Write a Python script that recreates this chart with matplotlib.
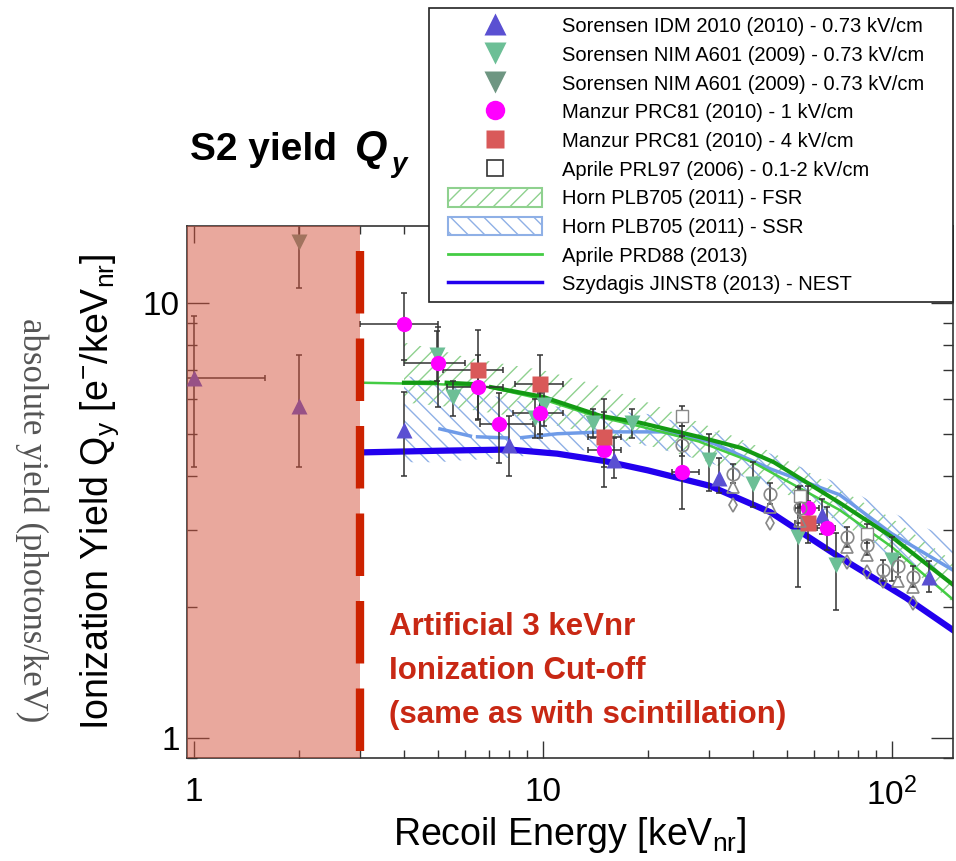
import numpy as np
import matplotlib.pyplot as plt
from matplotlib.lines import Line2D
from matplotlib.patches import Patch
from matplotlib.legend_handler import HandlerLine2D, HandlerPatch
from matplotlib.ticker import FixedLocator, FixedFormatter, LogLocator, NullFormatter

plt.rcParams['font.family'] = ['Liberation Sans', 'DejaVu Sans']
plt.rcParams['hatch.linewidth'] = 1.0

nan = np.nan

# --- measurements: recoil energy [keVnr], yield [e-/keVnr], error bounds ---
idm_x = [1.0, 2.0, 4.0, 8.0, 16.0, 32.0, 63.0, 128.0]
idm_y = [6.7, 5.8, 5.1, 4.7, 4.35, 3.95, 3.25, 2.35]
idm_ylo = [4.2, 4.2, 4.0, 4.0, 3.95, 3.65, 2.95, 2.17]
idm_yhi = [9.3, 7.6, 6.25, 5.5, 4.9, 4.4, 3.55, 2.55]

nim_x = [4.97, 5.53, 9.5, 10.07, 13.9, 18.0, 29.9, 40.0, 53.8, 69.5, 100.0]
nim_y = [7.6, 6.08, 5.44, 5.83, 5.3, 5.3, 4.36, 3.84, 2.9, 2.5, 2.57]
nim_ylo = [6.6, 5.5, 4.9, 5.2, 4.9, 4.9, 3.7, 3.4, 2.22, 1.97, 2.3]
nim_yhi = [8.6, 6.6, 6.0, 6.4, 5.7, 5.7, 5.0, 4.3, 3.78, 2.96, 2.9]

nim2_x = [2.0]
nim2_y = [13.8]
nim2_ylo = [10.8]
nim2_yhi = [20.0]

m1_x = [4.0, 5.0, 6.5, 7.5, 9.8, 15.0, 25.0, 57.5, 65.1]
m1_y = [8.95, 7.28, 6.41, 5.27, 5.59, 4.6, 4.09, 3.38, 3.04]
m1_xlo = [3.0, 4.0, 5.3, 6.6, 8.2, 13.5, 23.4, 53.0, 61.0]
m1_xhi = [5.0, 6.0, 7.7, 9.4, 11.4, 16.8, 28.0, 62.0, 69.0]
m1_ylo = [7.4, 5.77, 5.4, 4.29, 4.9, 3.78, 3.36, 3.0, 2.7]
m1_yhi = [10.5, 8.8, 7.6, 6.2, 6.2, 6.0, 5.2, 3.8, 3.4]

m4_x = [6.5, 9.8, 15.0, 57.5]
m4_y = [7.0, 6.51, 4.92, 3.12]
m4_xlo = [5.17, 8.3, 13.5, 53.0]
m4_xhi = [7.7, 11.4, 16.8, 62.0]
m4_ylo = [5.38, 5.0, 4.2, 2.8]
m4_yhi = [8.67, 7.6, 5.6, 3.5]

a06_x = [25.0, 54.5, 84.8]
a06_y = [5.5, 3.6, 2.95]
a06_ylo = [5.2, 3.4, 2.8]
a06_yhi = [5.8, 3.8, 3.1]

a06c_x = [25.0, 35.0, 44.7, 54.5, 74.3, 84.8, 94.2, 104.0, 115.0]
a06c_y = [4.71, 4.05, 3.64, 3.38, 2.9, 2.78, 2.43, 2.48, 2.35]
a06c_ylo = [4.45, 3.85, 3.45, 3.2, 2.75, 2.64, 2.3, 2.35, 2.22]
a06c_yhi = [4.95, 4.25, 3.85, 3.56, 3.05, 2.92, 2.56, 2.61, 2.48]
a06t_x = [35.0, 44.7, 54.5, 74.3, 84.8, 104.0, 115.0]
a06t_y = [3.77, 3.4, 3.15, 2.75, 2.63, 2.3, 2.22]
a06d_x = [35.0, 44.7, 74.3, 84.8, 94.2, 115.0]
a06d_y = [3.43, 3.12, 2.54, 2.41, 2.3, 2.04]

# --- model curves and bands ---
fsr_x = [4, 5, 6, 8, 10, 14, 20, 30, 45, 70, 100, 150]
fsr_lo = [5.9, 5.8, 5.7, 5.5, 5.3, 5.0, 4.7, 4.3, 3.8, 3.15, 2.65, 2.05]
fsr_hi = [8.1, 7.8, 7.5, 7.2, 7.0, 6.5, 5.9, 5.2, 4.55, 3.75, 3.2, 2.55]
fsr_line_x = [4.0, 4.97, nan, 5.3, 6.4, nan, 7.1, 10, 14.6, 19, 28, 37, 46, 71, 100, 150]
fsr_line_y = [6.55, 6.55, nan, 6.55, 6.5, nan, 6.4, 6.08, 5.5, 5.3, 4.92, 4.64, 4.3, 3.47, 2.9, 2.25]

ssr_x = [4, 5, 6, 8, 10, 14, 20, 30, 45, 70, 100, 150]
ssr_lo = [4.3, 4.3, 4.35, 4.4, 4.5, 4.6, 4.7, 4.3, 3.75, 3.1, 2.6, 2.3]
ssr_hi = [6.8, 6.6, 6.3, 6.0, 5.8, 5.7, 5.55, 5.1, 4.5, 3.85, 3.3, 2.85]
ssr_line_x = [5.07, 6.2, nan, 6.5, 7.9, nan, 8.7, 11, 15, 22, 30, 45, 71, 100, 150]
ssr_line_y = [5.13, 4.94, nan, 4.92, 4.89, nan, 4.9, 5.0, 5.05, 5.05, 4.8, 4.15, 3.62, 2.95, 2.43]

aprile13_x = [3, 5, 7, 10, 14, 19, 28, 40, 71, 100, 150]
aprile13_y = [6.55, 6.5, 6.4, 6.0, 5.5, 5.2, 4.8, 4.3, 3.34, 2.75, 2.08]

nest_x = [3, 5, 8, 11, 15, 20, 30, 45, 70, 110, 150]
nest_y = [4.53, 4.57, 4.6, 4.5, 4.33, 4.12, 3.8, 3.3, 2.62, 2.1, 1.77]

labels = ['Sorensen IDM 2010 (2010) - 0.73 kV/cm',
          'Sorensen NIM A601 (2009) - 0.73 kV/cm',
          'Sorensen NIM A601 (2009) - 0.73 kV/cm',
          'Manzur PRC81 (2010) - 1 kV/cm',
          'Manzur PRC81 (2010) - 4 kV/cm',
          'Aprile PRL97 (2006) - 0.1-2 kV/cm',
          'Horn PLB705 (2011) - FSR',
          'Horn PLB705 (2011) - SSR',
          'Aprile PRD88 (2013)',
          'Szydagis JINST8 (2013) - NEST']

c_idm = '#5a50d2'
c_nim = '#6cbf96'
c_nim2 = '#6e9682'
c_m1 = '#ff00ff'
c_m4 = '#d95959'
c_gray = '#888888'
c_fsr = '#139a13'
c_fsr_band = '#8fd18f'
c_ssr = '#6f9be8'
c_ssr_band = '#8fb0e6'
c_aprile = '#44cc44'
c_nest = '#2200ee'
c_red = '#cc2200'

fig = plt.figure(figsize=(9.56, 8.61), dpi=100)
ax = fig.add_axes([0.1953, 0.1196, 0.8016, 0.6179])
ax.set_xscale('log')
ax.set_yscale('log')
ax.set_xlim(0.953, 150)
ax.set_ylim(0.9, 15)

# bands
ax.fill_between(fsr_x, fsr_lo, fsr_hi, facecolor='none', edgecolor=c_fsr_band,
                hatch='//', linewidth=0, zorder=1)
ax.fill_between(ssr_x, ssr_lo, ssr_hi, facecolor='none', edgecolor=c_ssr_band,
                hatch='\\\\', linewidth=0, zorder=1)

# curves
ax.plot(ssr_line_x, ssr_line_y, color=c_ssr, lw=2.5, zorder=2)
ax.plot(aprile13_x, aprile13_y, color=c_aprile, lw=1.8, zorder=2)
ax.plot(fsr_line_x, fsr_line_y, color=c_fsr, lw=3, zorder=2)
ax.plot(nest_x, nest_y, color=c_nest, lw=4.5, zorder=2)


def points(x, y, ylo, yhi, xlo=None, xhi=None, **kw):
    x = np.array(x)
    y = np.array(y)
    yerr = [y - np.array(ylo), np.array(yhi) - y]
    xerr = None
    if xlo is not None:
        xerr = [x - np.array(xlo), np.array(xhi) - x]
    ax.errorbar(x, y, xerr=xerr, yerr=yerr, fmt='none', ecolor='#333333',
                elinewidth=1.1, capsize=2, capthick=1.1, zorder=3)
    ax.plot(x, y, ls='none', zorder=4, **kw)


points(idm_x, idm_y, idm_ylo, idm_yhi, xlo=[0.6] + idm_x[1:], xhi=[1.6] + idm_x[1:],
       marker='^', ms=11, color=c_idm, mec='none')
points(nim_x, nim_y, nim_ylo, nim_yhi, marker='v', ms=11, color=c_nim, mec='none')
points(nim2_x, nim2_y, nim2_ylo, nim2_yhi, marker='v', ms=11, color=c_nim2, mec='none')
points(m1_x, m1_y, m1_ylo, m1_yhi, xlo=m1_xlo, xhi=m1_xhi,
       marker='o', ms=11, color=c_m1, mec='none')
points(m4_x, m4_y, m4_ylo, m4_yhi, xlo=m4_xlo, xhi=m4_xhi,
       marker='s', ms=11, color=c_m4, mec='none')
points(a06_x, a06_y, a06_ylo, a06_yhi, marker='s', ms=9, mfc='white', mec=c_gray)
points(a06c_x, a06c_y, a06c_ylo, a06c_yhi, marker='o', ms=9, mfc='none', mec=c_gray, mew=1.2)
ax.plot(a06t_x, a06t_y, ls='none', marker='^', ms=9, mfc='none', mec=c_gray, mew=1.2, zorder=4)
ax.plot(a06d_x, a06d_y, ls='none', marker='d', ms=7, mfc='none', mec=c_gray, mew=1.2, zorder=4)

# excluded region below 3 keVnr
ax.axvspan(0.953, 3.0, color='#d4523c', alpha=0.5, lw=0, zorder=8)
ax.plot([3, 3], [15, 0.9], color=c_red, lw=6, ls=(7.5, (7.5, 3.0)), zorder=9)

# axes styling
for s in ax.spines.values():
    s.set_color('#333333')
    s.set_linewidth(1.2)
ax.xaxis.set_major_locator(FixedLocator([1, 10, 100]))
ax.xaxis.set_major_formatter(FixedFormatter(['1', '10', r'$\mathregular{10^{2}}$']))
ax.xaxis.set_minor_locator(LogLocator(base=10, subs=np.arange(2, 10)))
ax.xaxis.set_minor_formatter(NullFormatter())
ax.yaxis.set_major_locator(FixedLocator([1, 10]))
ax.yaxis.set_major_formatter(FixedFormatter(['1', '10']))
ax.yaxis.set_minor_locator(LogLocator(base=10, subs=np.arange(2, 10)))
ax.yaxis.set_minor_formatter(NullFormatter())
ax.tick_params(which='both', direction='in', top=True, right=True, color='#333333', width=1.0,
               labelsize=24)
ax.tick_params(axis='x', which='major', length=12, pad=14)
ax.tick_params(axis='x', which='minor', length=6)
ax.tick_params(axis='y', which='major', length=16, pad=5)
ax.tick_params(axis='y', which='minor', length=7)

ax.set_xlabel(r'Recoil Energy [keV$_{\mathregular{nr}}$]', fontsize=27, labelpad=2)
ax.set_ylabel(r'Ionization Yield Q$_{\mathregular{y}}$ [e$^{\mathregular{-}}$/keV$_{\mathregular{nr}}$]',
              fontsize=27, labelpad=16)

fig.text(32 / 956, 1 - 520 / 861, 'absolute yield (photons/keV)', rotation=270,
         family='Liberation Serif', fontsize=25, color='#555555', ha='center', va='center')

# headline
fig.text(190 / 956, 1 - 160 / 861, 'S2 yield', weight='bold', fontsize=28,
         ha='left', va='baseline')
fig.text(355 / 956, 1 - 160 / 861, 'Q', weight='bold', style='italic', fontsize=30,
         ha='left', va='baseline')
fig.text(391 / 956, 1 - 172 / 861, 'y', weight='bold', style='italic', fontsize=20,
         ha='left', va='baseline')

for i, line in enumerate(['Artificial 3 keVnr', 'Ionization Cut-off',
                          '(same as with scintillation)']):
    fig.text(389 / 956, 1 - (635 + 44 * i) / 861, line, color='#c82814', weight='bold',
             fontsize=22.5, ha='left', va='baseline')

handles = [
    Line2D([], [], ls='none', marker='^', ms=16, color=c_idm, mec='none'),
    Line2D([], [], ls='none', marker='v', ms=16, color=c_nim, mec='none'),
    Line2D([], [], ls='none', marker='v', ms=16, color=c_nim2, mec='none'),
    Line2D([], [], ls='none', marker='o', ms=14, color=c_m1, mec='none'),
    Line2D([], [], ls='none', marker='s', ms=13, color=c_m4, mec='none'),
    Line2D([], [], ls='none', marker='s', ms=11, mfc='white', mec='#333333', mew=1.2),
    Patch(facecolor='white', edgecolor=c_fsr_band, hatch='//', lw=1.5),
    Patch(facecolor='white', edgecolor=c_ssr_band, hatch='\\\\', lw=1.5),
    Line2D([], [], color=c_aprile, lw=2),
    Line2D([], [], color=c_nest, lw=2.5),
]
hmap = {Line2D: HandlerLine2D(xpad=0.55), Patch: HandlerPatch(xpad=0.55)}
leg = fig.legend(handles, labels, loc='upper left', handler_map=hmap,
                 bbox_to_anchor=(429 / 956, 1 - 300 / 861, 524 / 956, 292 / 861), mode='expand',
                 fontsize=14.5, frameon=True, fancybox=False, edgecolor='#222222', framealpha=1,
                 handlelength=5.21, handleheight=1.05, handletextpad=1.0, labelspacing=0.42,
                 borderpad=0.4, borderaxespad=0)
leg.get_frame().set_linewidth(1.2)

fig.savefig('out.png', dpi=100)
